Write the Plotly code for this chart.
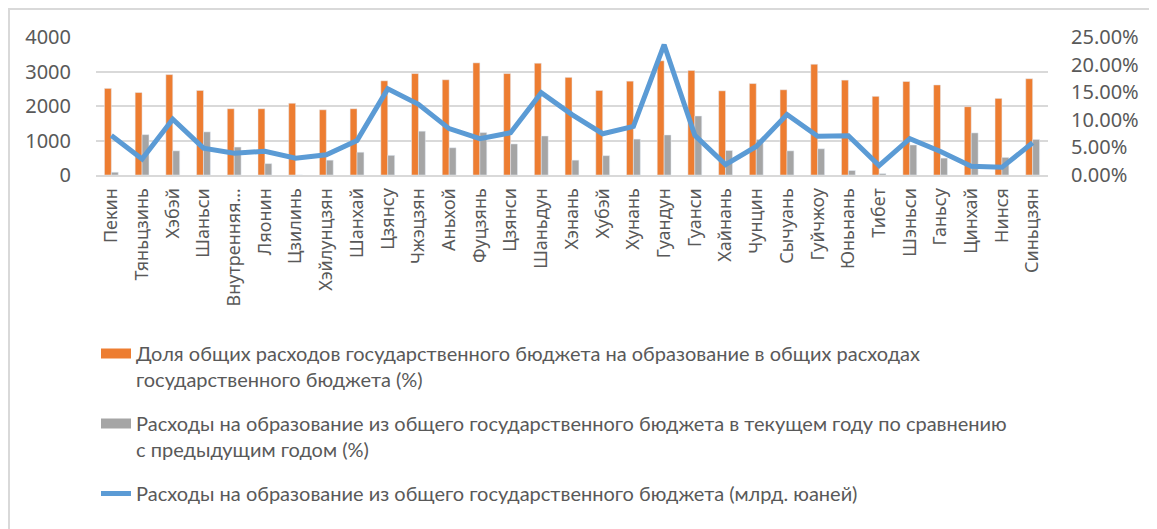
import plotly.graph_objects as go

provinces = ["Пекин", "Тяньцзинь", "Хэбэй", "Шаньси", "Внутренняя…", "Ляонин", "Цзилинь",
             "Хэйлунцзян", "Шанхай", "Цзянсу", "Чжэцзян", "Аньхой", "Фуцзянь", "Цзянси",
             "Шаньдун", "Хэнань", "Хубэй", "Хунань", "Гуандун", "Гуанси", "Хайнань",
             "Чунцин", "Сычуань", "Гуйчжоу", "Юньнань", "Тибет", "Шэньси", "Ганьсу",
             "Цинхай", "Нинся", "Синьцзян"]

share_values = [2510, 2390, 2910, 2450, 1920, 1920, 2080, 1890, 1920, 2730, 2940, 2760,
                3250, 2940, 3240, 2830, 2450, 2720, 3310, 3030, 2440, 2650, 2470, 3210,
                2750, 2280, 2710, 2610, 1980, 2220, 2790]

growth_values = [80, 1170, 700, 1250, 810, 330, 0, 430, 660, 570, 1270, 790, 1230, 900,
                 1130, 430, 560, 1040, 1160, 1710, 710, 1030, 700, 760, 130, 40, 870, 490,
                 1220, 510, 1030]

spending_pct = [0.0717, 0.029, 0.101, 0.0486, 0.0395, 0.043, 0.0303, 0.0365, 0.0626,
                0.156, 0.128, 0.084, 0.0657, 0.0766, 0.149, 0.1095, 0.0748, 0.088, 0.236,
                0.0717, 0.0188, 0.0516, 0.1095, 0.070, 0.071, 0.017, 0.0657, 0.0425,
                0.0157, 0.0139, 0.0584]

name_share = "Доля общих расходов государственного бюджета на образование в общих расходах<br>государственного бюджета (%)"
name_growth = "Расходы на образование из общего государственного бюджета в текущем году по сравнению<br>с предыдущим годом (%)"
name_spend = "Расходы на образование из общего государственного бюджета (млрд. юаней)"

ORANGE = "#ed7d31"
GREY = "#a5a5a5"
BLUE = "#5b9bd5"
TXT = "#595959"

fig = go.Figure()
fig.add_trace(go.Bar(x=provinces, y=share_values, name=name_share, marker_color=ORANGE,
                     showlegend=False, legendgroup="a"))
fig.add_trace(go.Bar(x=provinces, y=growth_values, name=name_growth, marker_color=GREY,
                     showlegend=False, legendgroup="b"))
fig.add_trace(go.Scatter(x=provinces, y=spending_pct, name=name_spend, yaxis="y2",
                         mode="lines", line=dict(color=BLUE, width=5), showlegend=False,
                         legendgroup="c"))

# legend entries (rectangular swatches like the original)
fig.add_trace(go.Scatter(x=[provinces[0]], y=[None], mode="lines", name=name_share,
                         line=dict(color=ORANGE, width=12), legendgroup="a"))
fig.add_trace(go.Scatter(x=[provinces[0]], y=[None], mode="lines", name=name_growth,
                         line=dict(color=GREY, width=12), legendgroup="b"))
fig.add_trace(go.Scatter(x=[provinces[0]], y=[None], mode="lines", name=name_spend,
                         line=dict(color=BLUE, width=5), legendgroup="c"))

# figure area inside the page (page has an 8px body margin)
W, H = 1149, 521
L, R, T, B = 88, 109, 29, 354
PW, PH = W - L - R, H - T - B

# outer chart border (left and top visible)
fig.add_shape(type="rect", xref="paper", yref="paper",
              x0=(1 - L) / PW, y0=-3.2, x1=1.3, y1=(PH + T - 1) / PH,
              line=dict(color="#d9d9d9", width=2), layer="below")

fig.update_layout(
    width=W, height=H,
    margin=dict(l=L, r=R, t=T, b=B, autoexpand=False),
    paper_bgcolor="white", plot_bgcolor="white",
    barmode="group", bargap=0.55, bargroupgap=0,
    font=dict(family="Noto Sans", color=TXT, size=19),
    xaxis=dict(tickangle=-90, tickfont=dict(size=18, family="Noto Sans", color=TXT),
               showgrid=False, showline=True, linecolor="#d9d9d9", linewidth=2,
               ticks="", range=[-0.5, 30.5], automargin=False, ticklabelstandoff=4),
    yaxis=dict(range=[0, 4000], dtick=1000, showgrid=True, gridcolor="#d9d9d9", gridwidth=2,
               zeroline=False, tickfont=dict(size=20, color=TXT), ticklabelstandoff=24,
               automargin=False),
    yaxis2=dict(range=[0, 0.25], dtick=0.05, overlaying="y", side="right", showgrid=False,
                zeroline=False, tickformat=".2%", tickfont=dict(size=20, color=TXT),
                ticklabelstandoff=22, automargin=False),
    legend=dict(xref="paper", yref="paper", x=0.0, y=(167 - 326) / PH,
                xanchor="left", yanchor="top", valign="top", tracegroupgap=15,
                font=dict(family="Lato", size=20, color=TXT), bgcolor="rgba(0,0,0,0)"),
)

fig.write_html("out.html")
